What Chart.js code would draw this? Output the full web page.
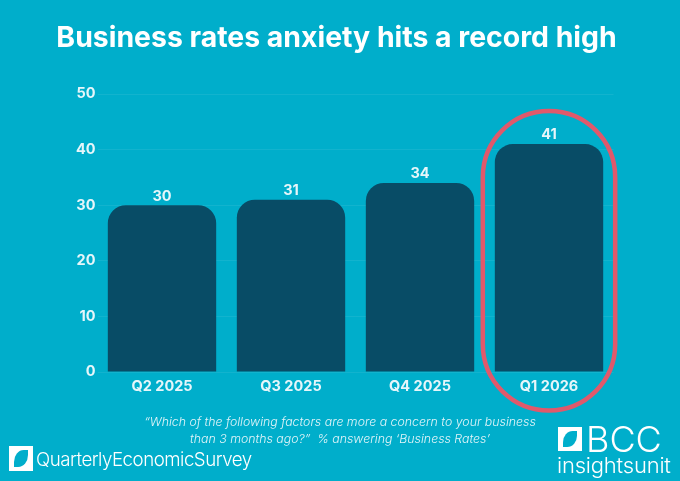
<!DOCTYPE html>
<html>
<head>
<meta charset="utf-8">
<script src="https://cdn.jsdelivr.net/npm/chart.js@4/dist/chart.umd.min.js"></script>
<style>
  html, body { margin: 0; padding: 0; background: #00aecb; }
  #wrap { position: relative; width: 680px; height: 481px; overflow: hidden; font-family: Inter, "Open Sans", sans-serif; color: #fff; }
  canvas { position: absolute; left: 0; top: 0; }
  h1 { position: absolute; left: 0; top: 18px; width: 673px; margin: 0; text-align: center; font-size: 28.4px; line-height: 38px; font-weight: 700; white-space: nowrap; }
  .note { position: absolute; left: 100px; top: 413px; width: 480px; text-align: center; font-size: 12.35px; line-height: 17px; font-style: italic; font-weight: 300; color: #e2f5f9; }
  .leaf { position: absolute; background: #fff; }
  .leaf i { position: absolute; display: block; background: #00aecb; border-radius: 70% 0 70% 0; }
  .survey { position: absolute; left: 36px; top: 447px; font-size: 18.7px; line-height: 26px; font-weight: 300; letter-spacing: -0.5px; white-space: nowrap; }
  .bcc { position: absolute; left: 586px; top: 419px; font-size: 36px; line-height: 40px; font-weight: 300; white-space: nowrap; }
  .unit { position: absolute; left: 557px; top: 451px; font-size: 22px; line-height: 28px; font-weight: 300; letter-spacing: -0.2px; white-space: nowrap; }
</style>
</head>
<body>
<div id="wrap">
  <canvas id="reportChart" width="680" height="481"></canvas>
  <h1>Business rates anxiety hits a record high</h1>
  <div class="note">“Which of the following factors are more a concern to your business<br>than 3 months ago?”&nbsp; % answering ‘Business Rates’</div>
  <div class="leaf" style="left:9px;top:446px;width:24px;height:25px"><i style="left:5px;top:4px;width:14px;height:17px"></i></div>
  <div class="survey">QuarterlyEconomicSurvey</div>
  <div class="leaf" style="left:558px;top:427px;width:24px;height:24px"><i style="left:5px;top:4px;width:14px;height:16px"></i></div>
  <div class="bcc">BCC</div>
  <div class="unit">insightsunit</div>
</div>
<script>
const categories = ["Q2 2025", "Q3 2025", "Q4 2025", "Q1 2026"];
const values = [30, 31, 34, 41];
const yTicks = [0, 10, 20, 30, 40, 50];
const highlightIndex = 3;

const textColor = "#e6f6fa";
const boldFont = { family: "Inter", weight: "700", size: 14.5 };

// value labels above the bars and the red ring round the latest quarter
const barExtras = {
    id: "barExtras",
    afterDatasetsDraw(chart) {
        const ctx = chart.ctx;
        const bars = chart.getDatasetMeta(0).data;
        ctx.save();
        ctx.fillStyle = textColor;
        ctx.font = "700 14.5px Inter";
        ctx.textAlign = "center";
        ctx.textBaseline = "middle";
        bars.forEach((bar, i) => ctx.fillText(values[i], bar.x, bar.y - 9));

        const bar = bars[highlightIndex];
        const halfW = bar.width / 2 + 12;
        const top = bar.y - 33;
        const bottom = bar.base + 39;
        ctx.beginPath();
        ctx.roundRect(bar.x - halfW, top, halfW * 2, bottom - top, halfW);
        ctx.strokeStyle = "#e0596b";
        ctx.lineWidth = 4.5;
        ctx.stroke();
        ctx.restore();
    }
};

new Chart(document.getElementById("reportChart"), {
    type: "bar",
    data: {
        labels: categories,
        datasets: [{
            data: values,
            backgroundColor: "#084c66",
            categoryPercentage: 1,
            barPercentage: 0.84,
            borderRadius: { topLeft: 18, topRight: 18, bottomLeft: 0, bottomRight: 0 },
            borderSkipped: false
        }]
    },
    options: {
        responsive: false,
        animation: false,
        layout: { padding: { left: 0, right: 66.5, top: 94, bottom: 0 } },
        plugins: {
            legend: { display: false },
            tooltip: { enabled: false }
        },
        scales: {
            x: {
                grid: { display: false },
                border: { display: false },
                ticks: { color: textColor, font: boldFont, padding: -2 },
                afterFit(scale) { scale.height = 109; }
            },
            y: {
                min: 0,
                max: 50,
                afterBuildTicks(scale) { scale.ticks = yTicks.map(v => ({ value: v })); },
                grid: { color: "rgba(255,255,255,0.07)", drawTicks: false },
                border: { display: false },
                ticks: { color: textColor, font: boldFont, padding: 2 },
                afterFit(scale) { scale.width = 97.5; }
            }
        }
    },
    plugins: [barExtras]
});
</script>
</body>
</html>
